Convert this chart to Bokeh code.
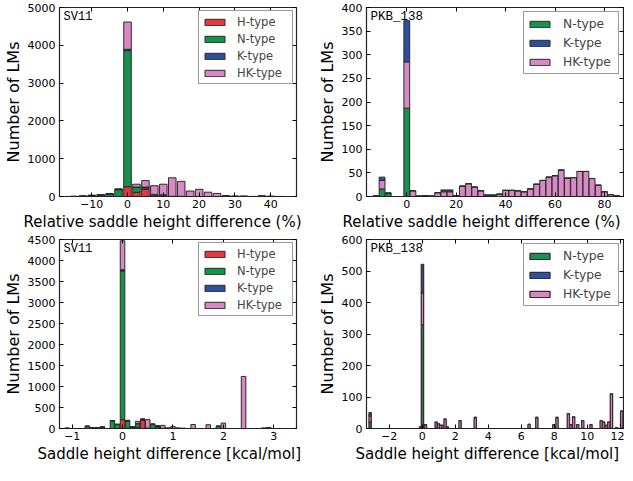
from bokeh.plotting import figure
from bokeh.layouts import gridplot
from bokeh.models import (ColumnDataSource, Range1d, FixedTicker, LinearAxis,
                          Legend, LegendItem, Label, Title)
from bokeh.embed import file_html
from bokeh.resources import INLINE

# ---------------- data ----------------
# Panel A: SV11, relative saddle height difference (%)
a_x = [-15, -12.5, -10, -7.5, -5, -2.5, 0, 2.5, 5, 7.5, 10, 12.5, 15, 17.5, 20,
       22.5, 25, 27.5, 30, 32.5, 35, 37.5, 40, 42.5]
a_H = [0, 0, 0, 0, 0, 0, 260, 110, 190, 5, 0, 0, 0, 0, 0, 0, 0, 0, 0, 0, 0, 0, 0, 0]
a_N = [2, 8, 20, 45, 70, 180, 3600, 130, 40, 10, 5, 0, 0, 0, 0, 0, 0, 0, 0, 0, 0, 0, 0, 0]
a_K = [0, 2, 10, 0, 0, 15, 35, 10, 20, 40, 40, 5, 5, 0, 0, 0, 0, 15, 5, 5, 0, 12, 3, 0]
a_HK = [0, 0, 0, 0, 0, 0, 720, 75, 170, 230, 280, 490, 395, 145, 190, 114, 81, 10,
        5, 5, 3, 3, 3, 2]

# Panel B: PKB_138, relative saddle height difference (%)
b_x = [-15, -12.5, -10, -7.5, -5, -2.5, 0, 2.5, 5, 7.5, 10, 12.5, 15, 17.5, 20,
       22.5, 25, 27.5, 30, 32.5, 35, 37.5, 40, 42.5, 45, 47.5, 50, 52.5, 55, 57.5,
       60, 62.5, 65, 67.5, 70, 72.5, 75, 77.5, 80, 82.5, 85]
b_N = [0, 1, 16, 7, 0, 0, 187, 0, 0, 0, 0, 0, 0, 0, 0, 0, 0, 0, 0, 0, 0, 0, 0, 0,
       0, 0, 0, 0, 0, 0, 0, 0, 0, 0, 0, 0, 0, 0, 0, 0, 0]
b_HK = [0, 0, 18, 0, 0, 0, 98, 12, 1, 2, 1, 8, 10, 10, 2, 22, 27, 20, 12, 3, 3, 5,
        13, 13, 12, 10, 16, 26, 34, 41, 44, 56, 39, 40, 53, 53, 38, 24, 10, 4, 1.5]
b_K = [0, 0, 7, 0, 0, 0, 87, 0, 0, 0, 0, 0, 4, 4, 0, 0, 0, 0, 0, 0, 0, 0, 0, 0,
       0, 0, 0, 0, 0, 0, 0, 0, 0, 0, 0, 0, 0, 0, 0, 0, 0]

# Panel C: SV11, saddle height difference (kcal/mol)
c_x = [-1.1, -0.7, -0.6, -0.5, -0.4, -0.2, -0.1, 0.0, 0.1, 0.2, 0.3, 0.4, 0.5, 0.6,
       0.7, 0.8, 0.9, 1.0, 1.1, 1.2, 1.4, 1.7, 1.9, 2.0, 2.4, 2.8, 2.9]
c_H = [0, 0, 0, 0, 0, 0, 0, 210, 10, 40, 30, 200, 10, 0, 30, 0, 0, 0, 0, 0, 0, 0,
       0, 0, 0, 0, 0]
c_N = [5, 50, 15, 15, 35, 180, 95, 3540, 160, 0, 80, 10, 0, 95, 30, 0, 5, 0, 5, 0,
       0, 0, 50, 0, 0, 3, 5]
c_K = [0, 5, 5, 3, 0, 10, 5, 30, 20, 0, 10, 15, 0, 10, 0, 5, 0, 0, 0, 3, 0, 0, 5,
       0, 0, 2, 15]
c_HK = [0, 0, 0, 0, 0, 0, 0, 690, 5, 0, 50, 0, 200, 0, 0, 70, 5, 45, 0, 0, 95, 90,
        0, 130, 1240, 0, 0]

# Panel D: PKB_138, saddle height difference (kcal/mol)
d_x = [-3.15, -0.1, 0.02, 0.2, 0.85, 0.99, 1.12, 1.25, 1.39, 1.52, 2.3, 3.22, 6.48,
       6.95, 7.98, 8.17, 8.86, 9.01, 9.18, 9.43, 9.73, 10.23, 10.85, 11.0, 11.16,
       11.31, 11.47, 11.78, 12.09]
d_N = [20, 0, 330, 0, 0, 0, 0, 0, 0, 0, 0, 0, 0, 0, 0, 0, 0, 0, 0, 0, 0, 0, 0, 0,
       0, 0, 0, 0, 0]
d_HK = [20, 5, 100, 12, 20, 15, 10, 10, 30, 5, 25, 35, 13, 35, 12, 35, 47, 12, 37,
        12, 25, 12, 25, 20, 10, 20, 110, 3, 55]
d_K = [10, 0, 91, 0, 0, 0, 0, 0, 0, 0, 0, 0, 0, 0, 0, 0, 0, 0, 0, 0, 0, 0, 0, 0,
       0, 0, 0, 0, 0]

# ticks
a_xticks = [-10, 0, 10, 20, 30, 40]
a_yticks = [0, 1000, 2000, 3000, 4000, 5000]
b_xticks = [0, 20, 40, 60, 80]
b_yticks = [0, 50, 100, 150, 200, 250, 300, 350, 400]
c_xticks = [-1, 0, 1, 2, 3]
c_yticks = [0, 500, 1000, 1500, 2000, 2500, 3000, 3500, 4000, 4500]
d_xticks = [-2, 0, 2, 4, 6, 8, 10, 12]
d_yticks = [0, 100, 200, 300, 400, 500, 600]

COLORS = {"H": "#e8363c", "N": "#15924b", "K": "#2e4f9f", "HK": "#d888c3"}
LABELS = {"H": "H-type", "N": "N-type", "K": "K-type", "HK": "HK-type"}
EDGE = "#2a2a2a"
FONT = "DejaVu Sans"


def make_panel(x, series, stack_order, legend_order, bar_w, xr, yr, xticks, yticks,
               xlabel, xlabel_offset, tag, width, height, bl, br, leg_font, leg_lh,
               leg_std, leg_margin, edge_w=1.0, edge_c=EDGE, tag_size="12px"):
    p = figure(width=width, height=height, output_backend="svg",
               toolbar_location=None, x_range=Range1d(*xr), y_range=Range1d(*yr),
               min_border_left=bl, min_border_right=br, min_border_top=7,
               min_border_bottom=36)
    p.xgrid.visible = False
    p.ygrid.visible = False
    p.outline_line_color = "#222222"
    p.outline_line_width = 1.2
    p.background_fill_color = "white"

    data = {"x": x}
    data.update(series)
    src = ColumnDataSource(data)
    rs = p.vbar_stack(stack_order, x="x", width=bar_w, source=src,
                      fill_color=[COLORS[s] for s in stack_order],
                      line_color=edge_c, line_width=edge_w)
    rmap = dict(zip(stack_order, rs))

    def overrides(ticks):
        return {t: ("\u2212" + str(abs(t))) for t in ticks if t < 0}

    for ax, ticks in ((p.xaxis[0], xticks), (p.yaxis[0], yticks)):
        ax.ticker = FixedTicker(ticks=ticks)
        ax.major_label_overrides = overrides(ticks)
        ax.minor_tick_line_color = None
        ax.major_tick_in = 4
        ax.major_tick_out = 0
        ax.axis_line_color = "#222222"
        ax.major_label_text_font = FONT
        ax.major_label_text_font_size = "11px"
        ax.major_label_text_color = "black"
        ax.axis_label_text_font = FONT
        ax.axis_label_text_font_style = "normal"
        ax.axis_label_text_color = "black"
    p.xaxis.major_label_standoff = 3
    p.yaxis.major_label_standoff = 4
    p.yaxis.axis_label = "Number of LMs"
    p.yaxis.axis_label_text_font_size = "16px"
    p.yaxis.axis_label_standoff = 2

    # x axis label as a left-aligned title below, shifted like the original
    p.add_layout(Title(text=xlabel, align="left", offset=xlabel_offset,
                       text_font=FONT, text_font_size="15px",
                       text_font_style="normal", text_color="black",
                       standoff=0), "below")

    # mirrored tick marks on top and right (no labels drawn)
    for loc, ticks in (("right", yticks), ("above", xticks)):
        ax = LinearAxis(ticker=FixedTicker(ticks=ticks))
        ax.major_label_text_font_size = "1px"
        ax.major_label_text_color = None
        ax.major_label_standoff = 0
        ax.major_tick_in = 4
        ax.major_tick_out = 0
        ax.minor_tick_line_color = None
        ax.axis_line_color = None
        p.add_layout(ax, loc)

    items = [LegendItem(label=LABELS[s], renderers=[rmap[s]]) for s in legend_order]
    leg = Legend(items=items, location="top_right", margin=leg_margin, padding=3,
                 spacing=2, glyph_width=25, glyph_height=8, label_height=leg_lh,
                 label_width=52, label_standoff=leg_std,
                 label_text_font=FONT, label_text_font_size=leg_font,
                 border_line_color="#333333", border_line_width=1.5,
                 background_fill_color="white", background_fill_alpha=1.0)
    p.add_layout(leg)

    p.add_layout(Label(x=xr[0], y=yr[1] - (yr[1] - yr[0]) * 0.012, text=tag,
                       x_offset=4, text_baseline="top",
                       text_font="Liberation Mono", text_font_size=tag_size,
                       text_color="black"))
    return p


pa = make_panel(a_x, {"H": a_H, "N": a_N, "K": a_K, "HK": a_HK},
                ["H", "N", "K", "HK"], ["H", "N", "K", "HK"], 2.1,
                (-19, 47.2), (0, 5000), a_xticks, a_yticks,
                "Relative saddle height difference (%)", -36, "SV11",
                308, 232, 52, 12, "11.5px", 15, 10, 3)
pb = make_panel(b_x, {"N": b_N, "HK": b_HK, "K": b_K},
                ["N", "HK", "K"], ["N", "K", "HK"], 2.35,
                (-16.3, 87.7), (0, 400), b_xticks, b_yticks,
                "Relative saddle height difference (%)", -24, "PKB_138",
                316, 232, 58, 1, "12.3px", 17, 11, 4, tag_size="12.5px")
pc = make_panel(c_x, {"H": c_H, "N": c_N, "K": c_K, "HK": c_HK},
                ["H", "N", "K", "HK"], ["H", "N", "K", "HK"], 0.09,
                (-1.25, 3.45), (0, 4500), c_xticks, c_yticks,
                "Saddle height difference [kcal/mol]", -22, "SV11",
                308, 232, 52, 12, "11.5px", 15, 10, 3)
pd_ = make_panel(d_x, {"N": d_N, "HK": d_HK, "K": d_K},
                 ["N", "HK", "K"], ["N", "K", "HK"], 0.14,
                 (-3.37, 12.2), (0, 600), d_xticks, d_yticks,
                 "Saddle height difference [kcal/mol]", -11, "PKB_138",
                 316, 232, 58, 1, "12.3px", 17, 11, 4, edge_w=1.3,
                 edge_c="#3a2a34", tag_size="12.5px")

grid = gridplot([[pa, pb], [pc, pd_]], toolbar_location=None)

with open("out.html", "w") as f:
    f.write(file_html(grid, INLINE))
